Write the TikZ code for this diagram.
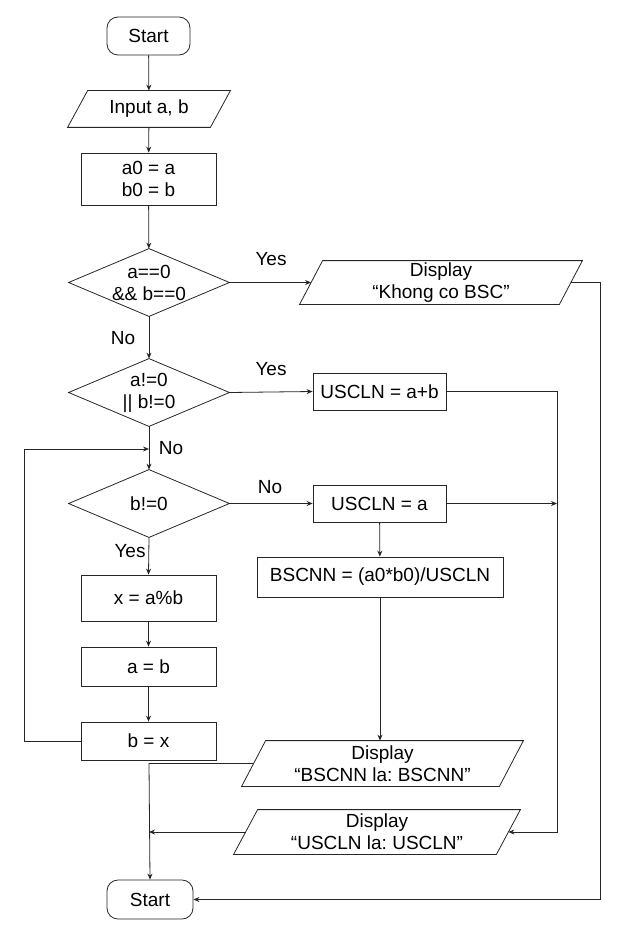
\documentclass[tikz,border=0pt]{standalone}
\usepackage{fontspec}
\setmainfont{Liberation Sans}
\usetikzlibrary{shapes.geometric,arrows.meta}
\frenchspacing
\tikzset{
  base/.style={font=\fontsize{19}{22}\selectfont, align=center, inner sep=0pt, line width=0.8pt, draw=black!85},
  term/.style={base, draw, rectangle, rounded corners=11pt},
  proc/.style={base, draw, rectangle},
  dec/.style={base, rectangle, draw=none},
  io/.style={base, rectangle, draw=none},
  conn/.style={line width=0.8pt, draw=black!85, -{Stealth[length=6pt,width=5pt]}},
  plain/.style={line width=0.8pt, draw=black!85},
  lbl/.style={font=\fontsize{19}{22}\selectfont, inner sep=0pt}
}
\newcommand{\iobox}[2]{% node name, slant
  \draw[plain] (#1.south west) -- ([xshift=#2]#1.north west) -- (#1.north east) -- ([xshift=-#2]#1.south east) -- cycle;}
\newcommand{\decbox}[1]{%
  \draw[plain] (#1.west) -- (#1.north) -- (#1.east) -- (#1.south) -- cycle;}
\begin{document}
\begin{tikzpicture}[x=1pt,y=-1pt]
\useasboundingbox (0,0) rectangle (625,936);
% nodes
\node[term, minimum width=83pt, minimum height=38pt] (start) at (148.5,36) {Start};
\node[io, minimum width=162pt, minimum height=36pt] (input) at (149,109) {Input a, b};
\iobox{input}{20pt}
\node[proc, minimum width=135pt, minimum height=52pt] (init) at (148.5,179) {a0 = a\\b0 = b};
\node[dec, minimum width=160pt, minimum height=67pt] (dec1) at (149,282.5) {a==0\\\&\& b==0};
\decbox{dec1}
\node[io, minimum width=282pt, minimum height=43pt] (disp1) at (441,282.5) {Display\\``Khong co BSC''};
\iobox{disp1}{23pt}
\node[dec, minimum width=160pt, minimum height=67pt] (dec2) at (149,392.5) {a!=0\\|| b!=0};
\decbox{dec2}
\node[proc, minimum width=133pt, minimum height=37pt] (sum) at (379.5,391.5) {USCLN = a+b};
\node[dec, minimum width=160pt, minimum height=67pt] (dec3) at (149,503.5) {b!=0};
\decbox{dec3}
\node[proc, minimum width=133pt, minimum height=37pt] (usa) at (379.5,503.5) {USCLN = a};
\node[proc, minimum width=246pt, minimum height=40pt] (bscnn) at (380,577) {BSCNN = (a0*b0)/USCLN};
\node[proc, minimum width=135pt, minimum height=46pt] (xmod) at (148.5,598) {x = a\%b};
\node[proc, minimum width=135pt, minimum height=39pt] (ab) at (148.5,666.5) {a = b};
\node[proc, minimum width=135pt, minimum height=38pt] (bx) at (148.5,741) {b = x};
\node[io, minimum width=281pt, minimum height=45pt] (disp2) at (382.5,763.5) {Display\\``BSCNN la: BSCNN''};
\iobox{disp2}{24pt}
\node[io, minimum width=286pt, minimum height=44pt] (disp3) at (377,832) {Display\\``USCLN la: USCLN''};
\iobox{disp3}{24pt}
\node[term, minimum width=86pt, minimum height=39pt] (stop) at (150,899.5) {Start};
% helper coordinates
\coordinate (d1l) at ([xshift=11.5pt]disp1.west);
\coordinate (d1r) at ([xshift=-11.5pt]disp1.east);
\coordinate (d2l) at ([xshift=12pt]disp2.west);
\coordinate (d3l) at ([xshift=12pt]disp3.west);
\coordinate (d3r) at ([xshift=-12pt]disp3.east);
\coordinate (join) at (149,449);
\coordinate (loopa) at (24,741);
\coordinate (loopb) at (24,449);
\coordinate (r1) at (600,282.5);
\coordinate (r1b) at (600,899.5);
\coordinate (r2) at (557,391.5);
\coordinate (r2b) at (557,832);
\coordinate (r2m) at (557,503.5);
\coordinate (lm) at (149,763.5);
\coordinate (lm2) at (149,832);
\coordinate (d2t) at (bscnn.south |- disp2.north);
% connectors
\draw[conn] (start) -- (input);
\draw[conn] (input) -- (init);
\draw[conn] (init) -- (dec1);
\draw[conn] (dec1.east) -- (d1l);
\draw[conn] (d1r) -- (r1) -- (r1b) -- (stop.east);
\draw[conn] (dec1.south) -- (dec2.north);
\draw[conn] (dec2.east) -- (sum.west);
\draw[conn] (sum.east) -- (r2) -- (r2b) -- (d3r);
\draw[plain] (dec2.south) -- (join);
\draw[conn] (join) -- (dec3.north);
\draw[conn] (bx.west) -- (loopa) -- (loopb) -- (join);
\draw[conn] (dec3.east) -- (usa.west);
\draw[conn] (usa.east) -- (r2m);
\draw[conn] (usa) -- (bscnn);
\draw[conn] (bscnn.south) -- (d2t);
\draw[conn] (dec3.south) -- (xmod.north);
\draw[conn] (xmod) -- (ab);
\draw[conn] (ab) -- (bx);
\draw[conn] (d2l) -- (lm) -- (stop.north);
\draw[conn] (d3l) -- (lm2);
% labels
\node[lbl] (l1) at (271,259) {Yes};
\node[lbl] (l2) at (123,338) {No};
\node[lbl] (l3) at (271,369) {Yes};
\node[lbl] (l4) at (171,448) {No};
\node[lbl] (l5) at (270,487) {No};
\node[lbl] (l6) at (130,551) {Yes};
\end{tikzpicture}
\end{document}
